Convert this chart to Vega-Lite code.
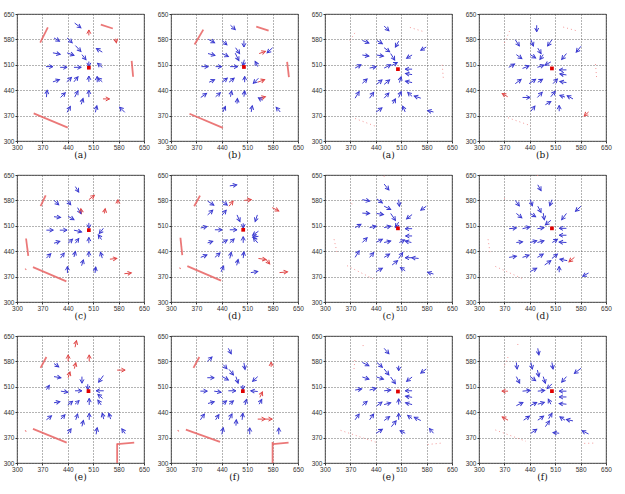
{
"$schema":"https://vega.github.io/schema/vega-lite/v6.json",
"background":"white",
"padding":{"left":2,"top":10,"right":4,"bottom":2},
"config":{"view":{"stroke":"#222","strokeWidth":0.8}},
"data":{"values":[
{"p":0,"k":"b","x":459,"y":625,"x2":476,"y2":612,"a":127},{"p":0,"k":"b","x":402,"y":584,"x2":417,"y2":575,"a":121},{"p":0,"k":"b","x":438,"y":584,"x2":452,"y2":571,"a":133},{"p":0,"k":"b","x":461,"y":563,"x2":476,"y2":547,"a":137},{"p":0,"k":"b","x":535,"y":545,"x2":519,"y2":555,"a":-58},{"p":0,"k":"b","x":399,"y":543,"x2":419,"y2":539,"a":101},{"p":0,"k":"b","x":438,"y":543,"x2":457,"y2":536,"a":110},{"p":0,"k":"b","x":479,"y":538,"x2":490,"y2":524,"a":142},{"p":0,"k":"b","x":380,"y":505,"x2":399,"y2":505,"a":90},{"p":0,"k":"b","x":419,"y":503,"x2":438,"y2":503,"a":90},{"p":0,"k":"b","x":457,"y":503,"x2":477,"y2":503,"a":90},{"p":0,"k":"b","x":498,"y":519,"x2":498,"y2":505,"a":180},{"p":0,"k":"b","x":535,"y":503,"x2":522,"y2":514,"a":-50},{"p":0,"k":"b","x":399,"y":463,"x2":417,"y2":469,"a":72},{"p":0,"k":"b","x":437,"y":463,"x2":450,"y2":475,"a":47},{"p":0,"k":"b","x":457,"y":463,"x2":468,"y2":477,"a":38},{"p":0,"k":"b","x":498,"y":463,"x2":498,"y2":479,"a":0},{"p":0,"k":"b","x":535,"y":463,"x2":523,"y2":474,"a":-47},{"p":0,"k":"b","x":521,"y":462,"x2":521,"y2":478,"a":0},{"p":0,"k":"b","x":381,"y":421,"x2":383,"y2":440,"a":6},{"p":0,"k":"b","x":420,"y":420,"x2":433,"y2":433,"a":45},{"p":0,"k":"b","x":459,"y":421,"x2":468,"y2":438,"a":28},{"p":0,"k":"b","x":498,"y":421,"x2":498,"y2":440,"a":0},{"p":0,"k":"b","x":477,"y":401,"x2":482,"y2":417,"a":17},{"p":0,"k":"b","x":438,"y":379,"x2":447,"y2":395,"a":29},{"p":0,"k":"b","x":516,"y":379,"x2":520,"y2":397,"a":13},{"p":0,"k":"b","x":597,"y":379,"x2":583,"y2":393,"a":-45},
{"p":0,"k":"r","x":498,"y":591,"x2":498,"y2":606,"a":0},{"p":0,"k":"r","x":537,"y":416,"x2":555,"y2":416,"a":90},{"p":0,"k":"r","x":572,"y":582,"x2":574,"y2":571,"a":170},
{"p":0,"k":"t","x":531,"y":621,"x2":564,"y2":610},{"p":0,"k":"t","x":364,"y":571,"x2":385,"y2":613},{"p":0,"k":"t","x":616,"y":521,"x2":620,"y2":477},{"p":0,"k":"t","x":346,"y":376,"x2":440,"y2":337},
{"p":0,"k":"c","x":498,"y":502},

{"p":1,"k":"b","x":464,"y":619,"x2":477,"y2":607,"a":133},{"p":1,"k":"b","x":403,"y":580,"x2":420,"y2":571,"a":118},{"p":1,"k":"b","x":441,"y":577,"x2":454,"y2":565,"a":133},{"p":1,"k":"b","x":501,"y":577,"x2":501,"y2":559,"a":180},{"p":1,"k":"b","x":478,"y":557,"x2":489,"y2":541,"a":146},{"p":1,"k":"b","x":580,"y":557,"x2":565,"y2":543,"a":227},{"p":1,"k":"b","x":402,"y":541,"x2":421,"y2":536,"a":105},{"p":1,"k":"b","x":441,"y":541,"x2":458,"y2":533,"a":115},{"p":1,"k":"b","x":477,"y":542,"x2":487,"y2":522,"a":153},{"p":1,"k":"b","x":384,"y":505,"x2":403,"y2":505,"a":90},{"p":1,"k":"b","x":423,"y":505,"x2":440,"y2":505,"a":90},{"p":1,"k":"b","x":463,"y":505,"x2":484,"y2":505,"a":90},{"p":1,"k":"b","x":502,"y":524,"x2":498,"y2":507,"a":193},{"p":1,"k":"b","x":539,"y":505,"x2":532,"y2":519,"a":-27},{"p":1,"k":"b","x":405,"y":462,"x2":420,"y2":469,"a":65},{"p":1,"k":"b","x":441,"y":462,"x2":455,"y2":473,"a":52},{"p":1,"k":"b","x":460,"y":462,"x2":474,"y2":473,"a":52},{"p":1,"k":"b","x":503,"y":462,"x2":503,"y2":478,"a":0},{"p":1,"k":"b","x":541,"y":473,"x2":527,"y2":459,"a":225},{"p":1,"k":"b","x":382,"y":420,"x2":398,"y2":431,"a":55},{"p":1,"k":"b","x":423,"y":422,"x2":436,"y2":433,"a":50},{"p":1,"k":"b","x":464,"y":422,"x2":467,"y2":438,"a":11},{"p":1,"k":"b","x":501,"y":422,"x2":503,"y2":438,"a":7},{"p":1,"k":"b","x":552,"y":412,"x2":541,"y2":419,"a":-58},{"p":1,"k":"b","x":482,"y":403,"x2":483,"y2":417,"a":4},{"p":1,"k":"b","x":443,"y":380,"x2":450,"y2":395,"a":25},{"p":1,"k":"b","x":521,"y":380,"x2":524,"y2":397,"a":10},{"p":1,"k":"b","x":601,"y":380,"x2":590,"y2":393,"a":-40},
{"p":1,"k":"r","x":543,"y":541,"x2":560,"y2":547,"a":71},{"p":1,"k":"r","x":539,"y":462,"x2":558,"y2":469,"a":70},{"p":1,"k":"r","x":544,"y":418,"x2":560,"y2":422,"a":76},
{"p":1,"k":"t","x":535,"y":615,"x2":569,"y2":604},{"p":1,"k":"t","x":365,"y":566,"x2":389,"y2":607},{"p":1,"k":"t","x":620,"y":518,"x2":625,"y2":476},{"p":1,"k":"t","x":351,"y":375,"x2":443,"y2":336},
{"p":1,"k":"c","x":501,"y":504},

{"p":2,"k":"b","x":463,"y":617,"x2":476,"y2":604,"a":135},{"p":2,"k":"b","x":403,"y":577,"x2":421,"y2":570,"a":111},{"p":2,"k":"b","x":443,"y":577,"x2":458,"y2":568,"a":121},{"p":2,"k":"b","x":503,"y":575,"x2":494,"y2":559,"a":209},{"p":2,"k":"b","x":579,"y":559,"x2":564,"y2":550,"a":239},{"p":2,"k":"b","x":463,"y":557,"x2":478,"y2":546,"a":126},{"p":2,"k":"b","x":403,"y":537,"x2":421,"y2":534,"a":99},{"p":2,"k":"b","x":442,"y":537,"x2":461,"y2":534,"a":99},{"p":2,"k":"b","x":481,"y":541,"x2":492,"y2":523,"a":149},{"p":2,"k":"b","x":540,"y":537,"x2":525,"y2":528,"a":239},{"p":2,"k":"b","x":383,"y":501,"x2":399,"y2":510,"a":61},{"p":2,"k":"b","x":423,"y":501,"x2":441,"y2":505,"a":77},{"p":2,"k":"b","x":463,"y":501,"x2":481,"y2":510,"a":63},{"p":2,"k":"b","x":484,"y":508,"x2":499,"y2":516,"a":62},{"p":2,"k":"b","x":540,"y":498,"x2":521,"y2":498,"a":270},{"p":2,"k":"b","x":540,"y":483,"x2":522,"y2":486,"a":-80},{"p":2,"k":"b","x":540,"y":461,"x2":522,"y2":465,"a":-77},{"p":2,"k":"b","x":505,"y":461,"x2":510,"y2":477,"a":17},{"p":2,"k":"b","x":403,"y":459,"x2":416,"y2":471,"a":47},{"p":2,"k":"b","x":442,"y":456,"x2":457,"y2":468,"a":51},{"p":2,"k":"b","x":463,"y":456,"x2":478,"y2":468,"a":51},{"p":2,"k":"b","x":383,"y":418,"x2":394,"y2":436,"a":31},{"p":2,"k":"b","x":423,"y":418,"x2":434,"y2":434,"a":35},{"p":2,"k":"b","x":463,"y":418,"x2":476,"y2":432,"a":43},{"p":2,"k":"b","x":503,"y":420,"x2":510,"y2":436,"a":24},{"p":2,"k":"b","x":540,"y":423,"x2":528,"y2":434,"a":-47},{"p":2,"k":"b","x":564,"y":418,"x2":546,"y2":424,"a":-72},{"p":2,"k":"b","x":487,"y":403,"x2":494,"y2":416,"a":28},{"p":2,"k":"b","x":441,"y":380,"x2":457,"y2":391,"a":55},{"p":2,"k":"b","x":521,"y":380,"x2":514,"y2":396,"a":-24},{"p":2,"k":"b","x":599,"y":380,"x2":583,"y2":384,"a":-76},
{"p":2,"k":"d","x":534,"y":613,"x2":570,"y2":602},{"p":2,"k":"d","x":369,"y":577,"x2":385,"y2":602},{"p":2,"k":"d","x":623,"y":510,"x2":626,"y2":474},{"p":2,"k":"d","x":383,"y":362,"x2":441,"y2":340},
{"p":2,"k":"c","x":501,"y":498},

{"p":3,"k":"b","x":459,"y":619,"x2":459,"y2":601,"a":180},{"p":3,"k":"b","x":400,"y":579,"x2":411,"y2":562,"a":147},{"p":3,"k":"b","x":443,"y":579,"x2":450,"y2":562,"a":158},{"p":3,"k":"b","x":501,"y":579,"x2":489,"y2":562,"a":215},{"p":3,"k":"b","x":581,"y":561,"x2":568,"y2":545,"a":219},{"p":3,"k":"b","x":462,"y":556,"x2":471,"y2":541,"a":149},{"p":3,"k":"b","x":403,"y":538,"x2":418,"y2":527,"a":126},{"p":3,"k":"b","x":441,"y":538,"x2":456,"y2":529,"a":121},{"p":3,"k":"b","x":477,"y":538,"x2":468,"y2":525,"a":215},{"p":3,"k":"b","x":541,"y":541,"x2":528,"y2":525,"a":219},{"p":3,"k":"b","x":382,"y":503,"x2":398,"y2":512,"a":61},{"p":3,"k":"b","x":420,"y":500,"x2":438,"y2":507,"a":69},{"p":3,"k":"b","x":461,"y":503,"x2":479,"y2":509,"a":72},{"p":3,"k":"b","x":498,"y":518,"x2":482,"y2":509,"a":241},{"p":3,"k":"b","x":541,"y":496,"x2":521,"y2":496,"a":270},{"p":3,"k":"b","x":541,"y":482,"x2":523,"y2":485,"a":-80},{"p":3,"k":"b","x":541,"y":461,"x2":523,"y2":464,"a":-80},{"p":3,"k":"b","x":504,"y":458,"x2":516,"y2":471,"a":43},{"p":3,"k":"b","x":400,"y":458,"x2":416,"y2":470,"a":53},{"p":3,"k":"b","x":438,"y":458,"x2":456,"y2":470,"a":56},{"p":3,"k":"b","x":462,"y":462,"x2":475,"y2":470,"a":58},{"p":3,"k":"b","x":420,"y":420,"x2":441,"y2":420,"a":90},{"p":3,"k":"b","x":461,"y":420,"x2":474,"y2":434,"a":43},{"p":3,"k":"b","x":498,"y":422,"x2":510,"y2":437,"a":39},{"p":3,"k":"b","x":559,"y":416,"x2":543,"y2":425,"a":-61},{"p":3,"k":"b","x":537,"y":421,"x2":523,"y2":426,"a":-70},{"p":3,"k":"b","x":483,"y":400,"x2":498,"y2":409,"a":59},{"p":3,"k":"b","x":443,"y":382,"x2":454,"y2":396,"a":38},{"p":3,"k":"b","x":521,"y":382,"x2":521,"y2":398,"a":0},
{"p":3,"k":"r","x":379,"y":422,"x2":364,"y2":431,"a":-59},{"p":3,"k":"r","x":602,"y":380,"x2":590,"y2":369,"a":227},
{"p":3,"k":"d","x":532,"y":614,"x2":568,"y2":604},{"p":3,"k":"d","x":370,"y":570,"x2":385,"y2":605},{"p":3,"k":"d","x":621,"y":512,"x2":624,"y2":476},{"p":3,"k":"d","x":380,"y":364,"x2":443,"y2":342},
{"p":3,"k":"c","x":501,"y":500},

{"p":4,"k":"b","x":461,"y":618,"x2":470,"y2":603,"a":149},{"p":4,"k":"b","x":402,"y":580,"x2":415,"y2":568,"a":133},{"p":4,"k":"b","x":438,"y":580,"x2":448,"y2":568,"a":140},{"p":4,"k":"b","x":467,"y":560,"x2":476,"y2":544,"a":151},{"p":4,"k":"b","x":402,"y":535,"x2":420,"y2":533,"a":96},{"p":4,"k":"b","x":441,"y":536,"x2":457,"y2":527,"a":119},{"p":4,"k":"b","x":498,"y":518,"x2":498,"y2":503,"a":180},{"p":4,"k":"b","x":381,"y":498,"x2":400,"y2":498,"a":90},{"p":4,"k":"b","x":418,"y":498,"x2":438,"y2":498,"a":90},{"p":4,"k":"b","x":457,"y":498,"x2":478,"y2":493,"a":103},{"p":4,"k":"b","x":538,"y":503,"x2":527,"y2":489,"a":218},{"p":4,"k":"b","x":533,"y":472,"x2":524,"y2":485,"a":-35},{"p":4,"k":"b","x":498,"y":462,"x2":498,"y2":478,"a":0},{"p":4,"k":"b","x":402,"y":462,"x2":418,"y2":467,"a":73},{"p":4,"k":"b","x":441,"y":462,"x2":453,"y2":473,"a":48},{"p":4,"k":"b","x":461,"y":462,"x2":470,"y2":475,"a":35},{"p":4,"k":"b","x":381,"y":421,"x2":393,"y2":433,"a":45},{"p":4,"k":"b","x":420,"y":421,"x2":430,"y2":435,"a":36},{"p":4,"k":"b","x":457,"y":424,"x2":461,"y2":439,"a":15},{"p":4,"k":"b","x":498,"y":424,"x2":498,"y2":439,"a":0},{"p":4,"k":"b","x":535,"y":421,"x2":530,"y2":437,"a":-17},{"p":4,"k":"b","x":478,"y":400,"x2":483,"y2":416,"a":17},{"p":4,"k":"b","x":439,"y":380,"x2":439,"y2":398,"a":0},{"p":4,"k":"b","x":515,"y":380,"x2":517,"y2":396,"a":7},
{"p":4,"k":"r","x":478,"y":542,"x2":476,"y2":557,"a":-8},{"p":4,"k":"r","x":498,"y":582,"x2":513,"y2":594,"a":51},{"p":4,"k":"r","x":541,"y":544,"x2":543,"y2":557,"a":9},{"p":4,"k":"r","x":578,"y":571,"x2":578,"y2":582,"a":0},{"p":4,"k":"r","x":556,"y":418,"x2":575,"y2":420,"a":84},{"p":4,"k":"r","x":596,"y":378,"x2":615,"y2":380,"a":84},
{"p":4,"k":"t","x":365,"y":564,"x2":379,"y2":594},{"p":4,"k":"t","x":325,"y":475,"x2":331,"y2":427},{"p":4,"k":"t","x":344,"y":396,"x2":436,"y2":357},{"p":4,"k":"t","x":323,"y":389,"x2":325,"y2":391},
{"p":4,"k":"c","x":498,"y":498},

{"p":5,"k":"b","x":462,"y":620,"x2":481,"y2":623,"a":81},{"p":5,"k":"b","x":401,"y":578,"x2":418,"y2":567,"a":123},{"p":5,"k":"b","x":441,"y":578,"x2":455,"y2":567,"a":128},{"p":5,"k":"b","x":401,"y":540,"x2":415,"y2":553,"a":47},{"p":5,"k":"b","x":441,"y":540,"x2":452,"y2":553,"a":40},{"p":5,"k":"b","x":482,"y":540,"x2":490,"y2":522,"a":156},{"p":5,"k":"b","x":538,"y":540,"x2":532,"y2":522,"a":198},{"p":5,"k":"b","x":382,"y":504,"x2":399,"y2":508,"a":77},{"p":5,"k":"b","x":421,"y":499,"x2":441,"y2":499,"a":90},{"p":5,"k":"b","x":462,"y":499,"x2":482,"y2":499,"a":90},{"p":5,"k":"b","x":499,"y":517,"x2":499,"y2":504,"a":180},{"p":5,"k":"b","x":541,"y":495,"x2":525,"y2":484,"a":236},{"p":5,"k":"b","x":541,"y":481,"x2":525,"y2":479,"a":263},{"p":5,"k":"b","x":539,"y":463,"x2":527,"y2":477,"a":-41},{"p":5,"k":"b","x":499,"y":463,"x2":499,"y2":480,"a":0},{"p":5,"k":"b","x":401,"y":463,"x2":415,"y2":467,"a":74},{"p":5,"k":"b","x":441,"y":463,"x2":455,"y2":471,"a":60},{"p":5,"k":"b","x":462,"y":463,"x2":474,"y2":474,"a":47},{"p":5,"k":"b","x":382,"y":423,"x2":399,"y2":430,"a":68},{"p":5,"k":"b","x":421,"y":423,"x2":435,"y2":435,"a":49},{"p":5,"k":"b","x":462,"y":420,"x2":466,"y2":437,"a":13},{"p":5,"k":"b","x":499,"y":421,"x2":501,"y2":438,"a":7},{"p":5,"k":"b","x":481,"y":401,"x2":485,"y2":417,"a":14},{"p":5,"k":"b","x":438,"y":383,"x2":445,"y2":399,"a":24},{"p":5,"k":"b","x":520,"y":381,"x2":539,"y2":384,"a":81},
{"p":5,"k":"r","x":460,"y":564,"x2":471,"y2":578,"a":38},{"p":5,"k":"r","x":502,"y":580,"x2":521,"y2":582,"a":84},{"p":5,"k":"r","x":579,"y":560,"x2":597,"y2":551,"a":117},{"p":5,"k":"r","x":541,"y":420,"x2":562,"y2":417,"a":98},{"p":5,"k":"r","x":562,"y":417,"x2":572,"y2":405,"a":140},{"p":5,"k":"r","x":599,"y":381,"x2":621,"y2":383,"a":85},
{"p":5,"k":"t","x":364,"y":564,"x2":380,"y2":593},{"p":5,"k":"t","x":326,"y":477,"x2":331,"y2":429},{"p":5,"k":"t","x":345,"y":399,"x2":438,"y2":359},{"p":5,"k":"t","x":324,"y":392,"x2":326,"y2":394},
{"p":5,"k":"c","x":499,"y":499},

{"p":6,"k":"b","x":463,"y":625,"x2":476,"y2":609,"a":141},{"p":6,"k":"b","x":403,"y":582,"x2":423,"y2":578,"a":101},{"p":6,"k":"b","x":443,"y":584,"x2":458,"y2":573,"a":126},{"p":6,"k":"b","x":503,"y":582,"x2":505,"y2":564,"a":174},{"p":6,"k":"b","x":579,"y":564,"x2":564,"y2":553,"a":234},{"p":6,"k":"b","x":463,"y":564,"x2":481,"y2":555,"a":117},{"p":6,"k":"b","x":403,"y":545,"x2":423,"y2":544,"a":93},{"p":6,"k":"b","x":442,"y":544,"x2":461,"y2":541,"a":99},{"p":6,"k":"b","x":481,"y":544,"x2":494,"y2":525,"a":146},{"p":6,"k":"b","x":540,"y":541,"x2":525,"y2":529,"a":231},{"p":6,"k":"b","x":383,"y":505,"x2":399,"y2":514,"a":61},{"p":6,"k":"b","x":423,"y":505,"x2":441,"y2":509,"a":77},{"p":6,"k":"b","x":463,"y":505,"x2":481,"y2":509,"a":77},{"p":6,"k":"b","x":503,"y":520,"x2":494,"y2":506,"a":213},{"p":6,"k":"b","x":540,"y":502,"x2":521,"y2":502,"a":270},{"p":6,"k":"b","x":540,"y":482,"x2":522,"y2":482,"a":270},{"p":6,"k":"b","x":538,"y":464,"x2":521,"y2":468,"a":-77},{"p":6,"k":"b","x":505,"y":464,"x2":519,"y2":471,"a":63},{"p":6,"k":"b","x":403,"y":464,"x2":416,"y2":477,"a":45},{"p":6,"k":"b","x":442,"y":465,"x2":458,"y2":473,"a":63},{"p":6,"k":"b","x":463,"y":464,"x2":481,"y2":468,"a":77},{"p":6,"k":"b","x":383,"y":423,"x2":394,"y2":441,"a":31},{"p":6,"k":"b","x":423,"y":423,"x2":434,"y2":436,"a":40},{"p":6,"k":"b","x":463,"y":423,"x2":478,"y2":432,"a":59},{"p":6,"k":"b","x":503,"y":420,"x2":514,"y2":436,"a":35},{"p":6,"k":"b","x":558,"y":420,"x2":539,"y2":422,"a":-84},{"p":6,"k":"b","x":539,"y":422,"x2":521,"y2":422,"a":270},{"p":6,"k":"b","x":485,"y":402,"x2":500,"y2":414,"a":51},{"p":6,"k":"b","x":441,"y":384,"x2":458,"y2":393,"a":62},{"p":6,"k":"b","x":521,"y":386,"x2":508,"y2":395,"a":-55},{"p":6,"k":"b","x":599,"y":377,"x2":583,"y2":382,"a":-73},
{"p":6,"k":"d","x":369,"y":582,"x2":376,"y2":566},{"p":6,"k":"d","x":325,"y":473,"x2":334,"y2":432},{"p":6,"k":"d","x":361,"y":400,"x2":432,"y2":364},{"p":6,"k":"d","x":463,"y":648,"x2":463,"y2":645},
{"p":6,"k":"c","x":501,"y":503},

{"p":7,"k":"b","x":462,"y":623,"x2":471,"y2":607,"a":151},{"p":7,"k":"b","x":400,"y":580,"x2":411,"y2":565,"a":144},{"p":7,"k":"b","x":441,"y":582,"x2":447,"y2":565,"a":161},{"p":7,"k":"b","x":501,"y":582,"x2":495,"y2":565,"a":199},{"p":7,"k":"b","x":581,"y":564,"x2":566,"y2":550,"a":227},{"p":7,"k":"b","x":462,"y":564,"x2":471,"y2":547,"a":152},{"p":7,"k":"b","x":403,"y":544,"x2":418,"y2":532,"a":129},{"p":7,"k":"b","x":441,"y":544,"x2":456,"y2":535,"a":121},{"p":7,"k":"b","x":477,"y":545,"x2":480,"y2":527,"a":171},{"p":7,"k":"b","x":541,"y":544,"x2":528,"y2":527,"a":217},{"p":7,"k":"b","x":383,"y":502,"x2":403,"y2":504,"a":84},{"p":7,"k":"b","x":420,"y":502,"x2":440,"y2":507,"a":76},{"p":7,"k":"b","x":461,"y":502,"x2":479,"y2":505,"a":81},{"p":7,"k":"b","x":498,"y":525,"x2":483,"y2":513,"a":231},{"p":7,"k":"b","x":541,"y":503,"x2":521,"y2":503,"a":270},{"p":7,"k":"b","x":541,"y":484,"x2":521,"y2":484,"a":270},{"p":7,"k":"b","x":541,"y":464,"x2":521,"y2":465,"a":-87},{"p":7,"k":"b","x":502,"y":464,"x2":516,"y2":473,"a":57},{"p":7,"k":"b","x":403,"y":464,"x2":420,"y2":466,"a":83},{"p":7,"k":"b","x":441,"y":464,"x2":459,"y2":469,"a":74},{"p":7,"k":"b","x":461,"y":464,"x2":479,"y2":469,"a":74},{"p":7,"k":"b","x":383,"y":423,"x2":403,"y2":426,"a":81},{"p":7,"k":"b","x":420,"y":423,"x2":438,"y2":429,"a":72},{"p":7,"k":"b","x":461,"y":423,"x2":477,"y2":432,"a":61},{"p":7,"k":"b","x":501,"y":420,"x2":516,"y2":432,"a":51},{"p":7,"k":"b","x":543,"y":414,"x2":523,"y2":418,"a":-79},{"p":7,"k":"b","x":481,"y":402,"x2":498,"y2":414,"a":55},{"p":7,"k":"b","x":441,"y":384,"x2":459,"y2":393,"a":63},{"p":7,"k":"b","x":521,"y":382,"x2":521,"y2":398,"a":0},{"p":7,"k":"b","x":602,"y":380,"x2":586,"y2":371,"a":241},
{"p":7,"k":"r","x":563,"y":423,"x2":548,"y2":411,"a":231},
{"p":7,"k":"d","x":325,"y":473,"x2":331,"y2":432},{"p":7,"k":"d","x":345,"y":398,"x2":425,"y2":362},{"p":7,"k":"d","x":461,"y":650,"x2":461,"y2":647},{"p":7,"k":"d","x":370,"y":586,"x2":372,"y2":580},
{"p":7,"k":"c","x":501,"y":503},

{"p":8,"k":"b","x":402,"y":574,"x2":415,"y2":565,"a":125},{"p":8,"k":"b","x":402,"y":538,"x2":421,"y2":535,"a":99},{"p":8,"k":"b","x":479,"y":538,"x2":479,"y2":520,"a":180},{"p":8,"k":"b","x":538,"y":541,"x2":525,"y2":523,"a":216},{"p":8,"k":"b","x":381,"y":502,"x2":389,"y2":514,"a":34},{"p":8,"k":"b","x":421,"y":498,"x2":440,"y2":495,"a":99},{"p":8,"k":"b","x":460,"y":499,"x2":479,"y2":499,"a":90},{"p":8,"k":"b","x":495,"y":517,"x2":495,"y2":502,"a":180},{"p":8,"k":"b","x":539,"y":499,"x2":518,"y2":499,"a":270},{"p":8,"k":"b","x":536,"y":478,"x2":523,"y2":489,"a":-50},{"p":8,"k":"b","x":532,"y":460,"x2":523,"y2":473,"a":-35},{"p":8,"k":"b","x":499,"y":460,"x2":499,"y2":478,"a":0},{"p":8,"k":"b","x":402,"y":466,"x2":418,"y2":469,"a":79},{"p":8,"k":"b","x":440,"y":460,"x2":453,"y2":470,"a":52},{"p":8,"k":"b","x":460,"y":462,"x2":471,"y2":472,"a":48},{"p":8,"k":"b","x":381,"y":419,"x2":395,"y2":430,"a":52},{"p":8,"k":"b","x":421,"y":421,"x2":432,"y2":433,"a":42},{"p":8,"k":"b","x":462,"y":419,"x2":467,"y2":435,"a":17},{"p":8,"k":"b","x":499,"y":419,"x2":499,"y2":437,"a":0},{"p":8,"k":"b","x":539,"y":421,"x2":535,"y2":437,"a":-14},{"p":8,"k":"b","x":558,"y":421,"x2":553,"y2":437,"a":-17},{"p":8,"k":"b","x":479,"y":401,"x2":483,"y2":417,"a":14},{"p":8,"k":"b","x":440,"y":381,"x2":449,"y2":394,"a":35},{"p":8,"k":"b","x":518,"y":379,"x2":521,"y2":397,"a":10},{"p":8,"k":"b","x":598,"y":381,"x2":589,"y2":394,"a":-35},
{"p":8,"k":"r","x":460,"y":619,"x2":464,"y2":637,"a":13},{"p":8,"k":"r","x":441,"y":580,"x2":441,"y2":598,"a":0},{"p":8,"k":"r","x":499,"y":580,"x2":499,"y2":598,"a":0},{"p":8,"k":"r","x":458,"y":560,"x2":462,"y2":576,"a":14},{"p":8,"k":"r","x":441,"y":535,"x2":446,"y2":551,"a":17},{"p":8,"k":"r","x":576,"y":556,"x2":598,"y2":556,"a":90},
{"p":8,"k":"t","x":365,"y":562,"x2":381,"y2":592},{"p":8,"k":"t","x":344,"y":394,"x2":437,"y2":356},{"p":8,"k":"t","x":323,"y":387,"x2":325,"y2":389},{"p":8,"k":"t","x":576,"y":354,"x2":576,"y2":300},{"p":8,"k":"t","x":576,"y":352,"x2":623,"y2":356},
{"p":8,"k":"c","x":497,"y":498},

{"p":9,"k":"b","x":458,"y":616,"x2":466,"y2":601,"a":152},{"p":9,"k":"b","x":400,"y":580,"x2":413,"y2":592,"a":47},{"p":9,"k":"b","x":444,"y":571,"x2":454,"y2":560,"a":138},{"p":9,"k":"b","x":501,"y":576,"x2":504,"y2":558,"a":171},{"p":9,"k":"b","x":460,"y":558,"x2":472,"y2":543,"a":141},{"p":9,"k":"b","x":400,"y":535,"x2":419,"y2":535,"a":90},{"p":9,"k":"b","x":441,"y":538,"x2":458,"y2":529,"a":118},{"p":9,"k":"b","x":479,"y":538,"x2":485,"y2":520,"a":162},{"p":9,"k":"b","x":539,"y":538,"x2":525,"y2":525,"a":227},{"p":9,"k":"b","x":381,"y":498,"x2":400,"y2":498,"a":90},{"p":9,"k":"b","x":419,"y":498,"x2":438,"y2":495,"a":99},{"p":9,"k":"b","x":458,"y":499,"x2":479,"y2":499,"a":90},{"p":9,"k":"b","x":498,"y":515,"x2":498,"y2":502,"a":180},{"p":9,"k":"b","x":539,"y":497,"x2":520,"y2":499,"a":-84},{"p":9,"k":"b","x":543,"y":462,"x2":550,"y2":475,"a":28},{"p":9,"k":"b","x":504,"y":460,"x2":508,"y2":475,"a":15},{"p":9,"k":"b","x":402,"y":464,"x2":419,"y2":469,"a":74},{"p":9,"k":"b","x":441,"y":462,"x2":453,"y2":471,"a":53},{"p":9,"k":"b","x":460,"y":462,"x2":472,"y2":471,"a":53},{"p":9,"k":"b","x":381,"y":419,"x2":392,"y2":435,"a":35},{"p":9,"k":"b","x":423,"y":419,"x2":432,"y2":433,"a":33},{"p":9,"k":"b","x":460,"y":419,"x2":468,"y2":435,"a":27},{"p":9,"k":"b","x":496,"y":419,"x2":498,"y2":437,"a":6},{"p":9,"k":"b","x":479,"y":403,"x2":480,"y2":419,"a":4},{"p":9,"k":"b","x":440,"y":379,"x2":444,"y2":397,"a":13},{"p":9,"k":"b","x":517,"y":379,"x2":517,"y2":397,"a":0},{"p":9,"k":"b","x":597,"y":379,"x2":597,"y2":397,"a":0},
{"p":9,"k":"r","x":576,"y":565,"x2":576,"y2":578,"a":0},{"p":9,"k":"r","x":545,"y":481,"x2":552,"y2":496,"a":25},{"p":9,"k":"r","x":539,"y":421,"x2":560,"y2":421,"a":90},{"p":9,"k":"r","x":560,"y":421,"x2":579,"y2":421,"a":90},
{"p":9,"k":"t","x":362,"y":562,"x2":378,"y2":592},{"p":9,"k":"t","x":341,"y":392,"x2":435,"y2":358},{"p":9,"k":"t","x":319,"y":388,"x2":321,"y2":390},{"p":9,"k":"t","x":580,"y":358,"x2":580,"y2":300},{"p":9,"k":"t","x":580,"y":352,"x2":624,"y2":356},
{"p":9,"k":"c","x":498,"y":498},

{"p":10,"k":"b","x":463,"y":616,"x2":476,"y2":601,"a":139},{"p":10,"k":"b","x":403,"y":577,"x2":421,"y2":568,"a":117},{"p":10,"k":"b","x":443,"y":577,"x2":458,"y2":564,"a":131},{"p":10,"k":"b","x":503,"y":568,"x2":503,"y2":554,"a":180},{"p":10,"k":"b","x":579,"y":559,"x2":564,"y2":548,"a":234},{"p":10,"k":"b","x":463,"y":559,"x2":476,"y2":543,"a":141},{"p":10,"k":"b","x":403,"y":537,"x2":421,"y2":531,"a":108},{"p":10,"k":"b","x":442,"y":537,"x2":461,"y2":531,"a":108},{"p":10,"k":"b","x":481,"y":537,"x2":494,"y2":519,"a":144},{"p":10,"k":"b","x":540,"y":537,"x2":525,"y2":525,"a":231},{"p":10,"k":"b","x":383,"y":501,"x2":401,"y2":504,"a":81},{"p":10,"k":"b","x":423,"y":501,"x2":441,"y2":506,"a":74},{"p":10,"k":"b","x":463,"y":499,"x2":481,"y2":501,"a":84},{"p":10,"k":"b","x":540,"y":499,"x2":521,"y2":499,"a":270},{"p":10,"k":"b","x":540,"y":481,"x2":522,"y2":484,"a":-80},{"p":10,"k":"b","x":540,"y":461,"x2":522,"y2":466,"a":-74},{"p":10,"k":"b","x":503,"y":461,"x2":503,"y2":477,"a":0},{"p":10,"k":"b","x":403,"y":459,"x2":416,"y2":470,"a":50},{"p":10,"k":"b","x":442,"y":457,"x2":457,"y2":468,"a":54},{"p":10,"k":"b","x":463,"y":461,"x2":481,"y2":466,"a":74},{"p":10,"k":"b","x":383,"y":419,"x2":394,"y2":435,"a":35},{"p":10,"k":"b","x":423,"y":419,"x2":434,"y2":435,"a":35},{"p":10,"k":"b","x":463,"y":417,"x2":478,"y2":428,"a":54},{"p":10,"k":"b","x":503,"y":419,"x2":503,"y2":437,"a":0},{"p":10,"k":"b","x":540,"y":422,"x2":528,"y2":431,"a":-53},{"p":10,"k":"b","x":564,"y":417,"x2":546,"y2":426,"a":-63},{"p":10,"k":"b","x":483,"y":400,"x2":496,"y2":416,"a":39},{"p":10,"k":"b","x":441,"y":382,"x2":458,"y2":393,"a":57},{"p":10,"k":"b","x":521,"y":382,"x2":507,"y2":389,"a":-63},{"p":10,"k":"b","x":599,"y":382,"x2":588,"y2":395,"a":-40},
{"p":10,"k":"d","x":380,"y":559,"x2":383,"y2":590},{"p":10,"k":"d","x":405,"y":625,"x2":405,"y2":622},{"p":10,"k":"d","x":343,"y":390,"x2":441,"y2":357},{"p":10,"k":"d","x":583,"y":351,"x2":623,"y2":355},
{"p":10,"k":"c","x":501,"y":497},

{"p":11,"k":"b","x":462,"y":616,"x2":465,"y2":598,"a":170},{"p":11,"k":"b","x":403,"y":577,"x2":405,"y2":559,"a":174},{"p":11,"k":"b","x":443,"y":577,"x2":447,"y2":559,"a":167},{"p":11,"k":"b","x":501,"y":577,"x2":504,"y2":559,"a":170},{"p":11,"k":"b","x":581,"y":561,"x2":563,"y2":547,"a":232},{"p":11,"k":"b","x":461,"y":556,"x2":465,"y2":538,"a":167},{"p":11,"k":"b","x":403,"y":538,"x2":412,"y2":520,"a":153},{"p":11,"k":"b","x":441,"y":538,"x2":456,"y2":527,"a":126},{"p":11,"k":"b","x":477,"y":538,"x2":483,"y2":520,"a":162},{"p":11,"k":"b","x":541,"y":538,"x2":528,"y2":523,"a":221},{"p":11,"k":"b","x":420,"y":498,"x2":441,"y2":500,"a":84},{"p":11,"k":"b","x":462,"y":498,"x2":481,"y2":500,"a":84},{"p":11,"k":"b","x":501,"y":518,"x2":488,"y2":505,"a":225},{"p":11,"k":"b","x":541,"y":498,"x2":521,"y2":498,"a":270},{"p":11,"k":"b","x":541,"y":482,"x2":521,"y2":482,"a":270},{"p":11,"k":"b","x":541,"y":462,"x2":521,"y2":464,"a":-84},{"p":11,"k":"b","x":498,"y":462,"x2":491,"y2":476,"a":-27},{"p":11,"k":"b","x":403,"y":458,"x2":421,"y2":467,"a":63},{"p":11,"k":"b","x":441,"y":458,"x2":459,"y2":467,"a":63},{"p":11,"k":"b","x":462,"y":462,"x2":480,"y2":467,"a":74},{"p":11,"k":"b","x":423,"y":418,"x2":439,"y2":429,"a":55},{"p":11,"k":"b","x":462,"y":418,"x2":478,"y2":429,"a":55},{"p":11,"k":"b","x":492,"y":422,"x2":501,"y2":437,"a":31},{"p":11,"k":"b","x":483,"y":400,"x2":494,"y2":416,"a":35},{"p":11,"k":"b","x":537,"y":418,"x2":523,"y2":427,"a":-57},{"p":11,"k":"b","x":559,"y":416,"x2":541,"y2":420,"a":-77},{"p":11,"k":"b","x":443,"y":382,"x2":459,"y2":393,"a":56},{"p":11,"k":"b","x":521,"y":382,"x2":504,"y2":384,"a":-83},{"p":11,"k":"b","x":602,"y":380,"x2":584,"y2":389,"a":-63},
{"p":11,"k":"r","x":380,"y":498,"x2":363,"y2":498,"a":270},{"p":11,"k":"r","x":380,"y":418,"x2":364,"y2":427,"a":-61},
{"p":11,"k":"d","x":407,"y":628,"x2":407,"y2":625},{"p":11,"k":"d","x":380,"y":592,"x2":367,"y2":561},{"p":11,"k":"d","x":345,"y":391,"x2":429,"y2":360},{"p":11,"k":"d","x":590,"y":354,"x2":621,"y2":355},
{"p":11,"k":"c","x":501,"y":498}
]},
"facet":{"field":"p","type":"ordinal","title":null,"header":{"title":null,"labelOrient":"bottom","labelPadding":0,"labelFont":"DejaVu Serif","labelFontSize":9,"labelColor":"#111","labelExpr":"['(a)','(b)','(a)','(b)','(c)','(d)','(c)','(d)','(e)','(f)','(e)','(f)'][datum.value]"}},
"columns":4,
"spacing":{"row":11,"column":6},
"resolve":{"axis":{"x":"independent","y":"independent"}},
"spec":{
"width":127,"height":127,
"encoding":{
"x":{"field":"x","type":"quantitative","scale":{"domain":[300,650],"nice":false,"zero":false},"axis":{"title":null,"values":[300,370,440,510,580,650],"labelFontSize":6.5,"labelFont":"Liberation Sans","labelColor":"#333","grid":true,"gridColor":"#444","gridDash":[1,2],"gridOpacity":0.8,"domain":false,"tickSize":2,"tickColor":"#333","labelPadding":1,"labelFlush":false}},
"y":{"field":"y","type":"quantitative","scale":{"domain":[300,650],"nice":false,"zero":false},"axis":{"title":null,"values":[300,370,440,510,580,650],"labelFontSize":6.5,"labelFont":"Liberation Sans","labelColor":"#333","grid":true,"gridColor":"#444","gridDash":[1,2],"gridOpacity":0.8,"domain":false,"tickSize":2,"tickColor":"#333","labelPadding":1,"labelFlush":false}}
},
"layer":[
{"transform":[{"filter":"datum.k=='d'"}],"mark":{"type":"rule","color":"#f08080","strokeWidth":1,"strokeDash":[1,3],"opacity":0.8},"encoding":{"x2":{"field":"x2"},"y2":{"field":"y2"}}},
{"transform":[{"filter":"datum.k=='t'"}],"mark":{"type":"rule","color":"#e86060","strokeWidth":1.8,"opacity":0.85},"encoding":{"x2":{"field":"x2"},"y2":{"field":"y2"}}},
{"transform":[{"filter":"datum.k=='b' || datum.k=='r'"}],"mark":{"type":"rule","strokeWidth":1},"encoding":{"x2":{"field":"x2"},"y2":{"field":"y2"},"color":{"field":"k","type":"nominal","scale":{"domain":["b","r"],"range":["#3a3ad0","#e04848"]},"legend":null}}},
{"transform":[{"filter":"datum.k=='b' || datum.k=='r'"}],"mark":{"type":"point","shape":"M-0.8,1.5L0,0L0.8,1.5","filled":false,"strokeWidth":1,"size":25,"opacity":1},"encoding":{"x":{"field":"x2","type":"quantitative"},"y":{"field":"y2","type":"quantitative"},"angle":{"field":"a","type":"quantitative","scale":null},"color":{"field":"k","type":"nominal","scale":{"domain":["b","r"],"range":["#3a3ad0","#e04848"]},"legend":null}}},
{"transform":[{"filter":"datum.k=='c'"}],"mark":{"type":"square","color":"#e00000","size":14,"opacity":1}}
]
}
}
